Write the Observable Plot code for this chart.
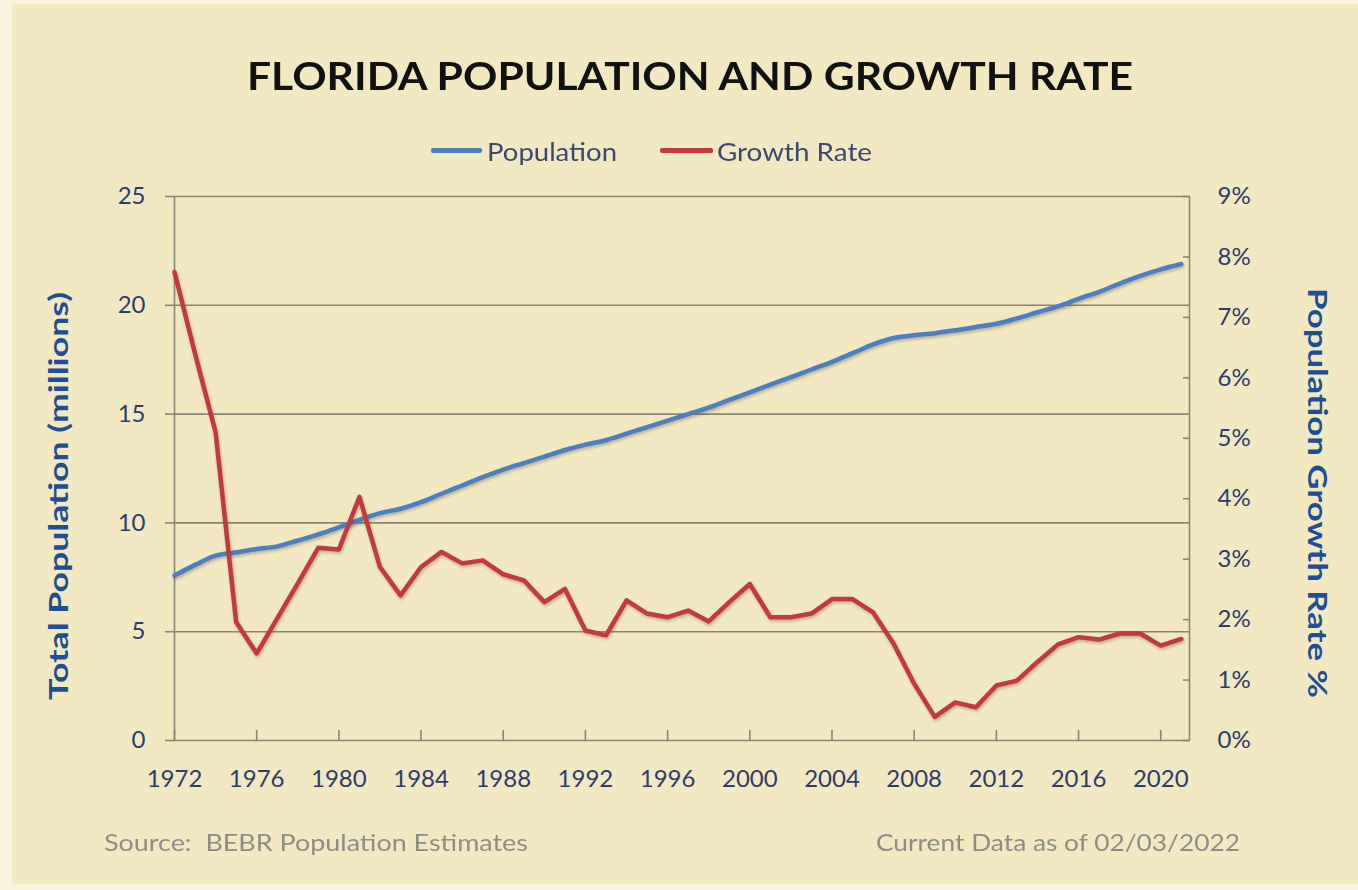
<!DOCTYPE html>
<html>
<head>
<meta charset="utf-8">
<script src="https://cdn.jsdelivr.net/npm/d3@7"></script>
<script src="https://cdn.jsdelivr.net/npm/@observablehq/plot@0.6"></script>
<style>
  html, body { margin: 0; padding: 0; background: #f8f3dd; }
  #wrap { position: relative; width: 1358px; height: 890px; overflow: hidden; background: #f8f3dd; font-family: Lato, "Open Sans", sans-serif; }
  #panel { position: absolute; left: 12px; top: 4px; width: 1346px; height: 880px; background: #f2e9c3; }
  #chart { position: absolute; left: 0; top: 0; }
  .fit { position: absolute; white-space: nowrap; transform-origin: 0 0; }
  #title { font-weight: 700; font-size: 38px; color: #111; }
  .leg { font-size: 25px; color: #3a4870; }
  .legline { position: absolute; height: 5px; border-radius: 2px; }
  .foot { font-size: 24px; color: #8e8c86; }
  .axt { font-weight: 700; font-size: 26px; color: #1f4e94; }
  svg g[aria-label="line"] { filter: drop-shadow(1px 2px 1.5px rgba(90,70,40,0.35)); }
</style>
</head>
<body>
<div id="wrap">
  <div id="panel"></div>
  <div id="chart"></div>
  <span class="fit" id="title">FLORIDA POPULATION AND GROWTH RATE</span>
  <div class="legline" style="left:431px;top:148px;width:51px;background:#4a7fc5"></div>
  <span class="fit leg" id="leg1">Population</span>
  <div class="legline" style="left:660px;top:148px;width:53px;background:#c2393f"></div>
  <span class="fit leg" id="leg2">Growth Rate</span>
  <span class="fit axt" id="ytl">Total Population (millions)</span>
  <span class="fit axt" id="ytr">Population Growth Rate %</span>
  <span class="fit foot" id="src">Source:&nbsp; BEBR Population Estimates</span>
  <span class="fit foot" id="cur">Current Data as of 02/03/2022</span>
</div>
<script>
// ---- data ----
const years = [1972,1973,1974,1975,1976,1977,1978,1979,1980,1981,1982,1983,1984,1985,1986,1987,1988,1989,1990,1991,
  1992,1993,1994,1995,1996,1997,1998,1999,2000,2001,2002,2003,2004,2005,2006,2007,2008,2009,2010,2011,
  2012,2013,2014,2015,2016,2017,2018,2019,2020,2021];
const population = [7.58,8.07,8.5,8.65,8.8,8.92,9.19,9.47,9.8,10.14,10.45,10.65,10.95,11.34,11.72,12.1,12.45,12.75,13.05,13.35,
  13.6,13.8,14.1,14.4,14.7,15.0,15.3,15.65,16.0,16.35,16.7,17.05,17.4,17.8,18.2,18.5,18.62,18.72,18.85,19.0,
  19.15,19.4,19.68,19.95,20.3,20.62,21.0,21.35,21.65,21.9];
const growthRate = [7.75,6.4,5.1,1.96,1.44,2.02,2.6,3.19,3.16,4.03,2.87,2.4,2.87,3.12,2.93,2.98,2.75,2.65,2.29,2.51,
  1.82,1.74,2.32,2.1,2.04,2.15,1.97,2.29,2.59,2.04,2.04,2.1,2.34,2.34,2.12,1.6,0.94,0.39,0.63,0.55,
  0.91,0.99,1.3,1.59,1.71,1.67,1.77,1.77,1.57,1.68];
const xTicks = [1972,1976,1980,1984,1988,1992,1996,2000,2004,2008,2012,2016,2020];
const popTicks = [0,5,10,15,20,25];
const rateTicks = [0,1,2,3,4,5,6,7,8,9];
const popMax = 25, rateMax = 9;
const xDomain = [1972, 2021.4];

const k = popMax / rateMax; // map rate onto population scale
const popData = years.map((y, i) => ({year: y, value: population[i]}));
const rateData = years.map((y, i) => ({year: y, value: growthRate[i] * k}));

const grid = "#8a8474";
const tickText = "#2c3c6c";

const chart = Plot.plot({
  width: 1358,
  height: 890,
  marginLeft: 174,
  marginRight: 169,
  marginTop: 196,
  marginBottom: 150,
  style: {background: "transparent", fontFamily: "Lato, sans-serif", fontSize: "24px", overflow: "visible"},
  x: {domain: xDomain},
  y: {domain: [0, popMax]},
  marks: [
    Plot.gridY(popTicks, {stroke: grid, strokeOpacity: 1, strokeWidth: 1.6}),
    Plot.ruleX([xDomain[0], xDomain[1]], {stroke: grid, strokeWidth: 1.6}),
    Plot.axisY(popTicks, {anchor: "left", tickSize: 9, tickPadding: 20, stroke: grid, strokeWidth: 1.6, fill: tickText, label: null, tickFormat: d => String(d)}),
    Plot.axisY(rateTicks.map(r => r * k), {anchor: "right", tickSize: -7, tickPadding: 35, stroke: grid, strokeWidth: 1.6, fill: tickText, label: null, tickFormat: d => Math.round(d / k) + "%"}),
    Plot.axisX(xTicks, {anchor: "bottom", tickSize: -10, tickPadding: 39, stroke: grid, strokeWidth: 1.6, fill: tickText, label: null, tickFormat: d => String(d)}),
    Plot.line(popData, {x: "year", y: "value", stroke: "#4a7fc5", strokeWidth: 4.5, curve: "monotone-x"}),
    Plot.line(rateData, {x: "year", y: "value", stroke: "#c2393f", strokeWidth: 4.5, strokeLinejoin: "round"})
  ]
});
document.getElementById("chart").appendChild(chart);

// fit text spans into the boxes measured on the reference
function fit(id, left, top, width, height, rotate) {
  const el = document.getElementById(id);
  const r = el.getBoundingClientRect();
  const sx = width / r.width;
  const h = r.height;
  if (!rotate) {
    el.style.left = left + "px";
    el.style.top = (top - h / 2) + "px";
    el.style.transform = `scaleX(${sx})`;
  } else if (rotate === -90) {
    // centered at (left, top); text length = width
    el.style.left = (left - h / 2) + "px";
    el.style.top = (top + width / 2) + "px";
    el.style.transform = `rotate(-90deg) scaleX(${sx})`;
  } else {
    el.style.left = (left + h / 2) + "px";
    el.style.top = (top - width / 2) + "px";
    el.style.transform = `rotate(90deg) scaleX(${sx})`;
  }
}
fit("title", 247, 75, 886);
fit("leg1", 487, 151, 130);
fit("leg2", 717, 151, 155);
fit("src", 104, 841, 424);
fit("cur", 876, 841, 364);
fit("ytl", 58, 496, 408, 0, -90);
fit("ytr", 1318, 493, 410, 0, 90);
</script>
</body>
</html>
